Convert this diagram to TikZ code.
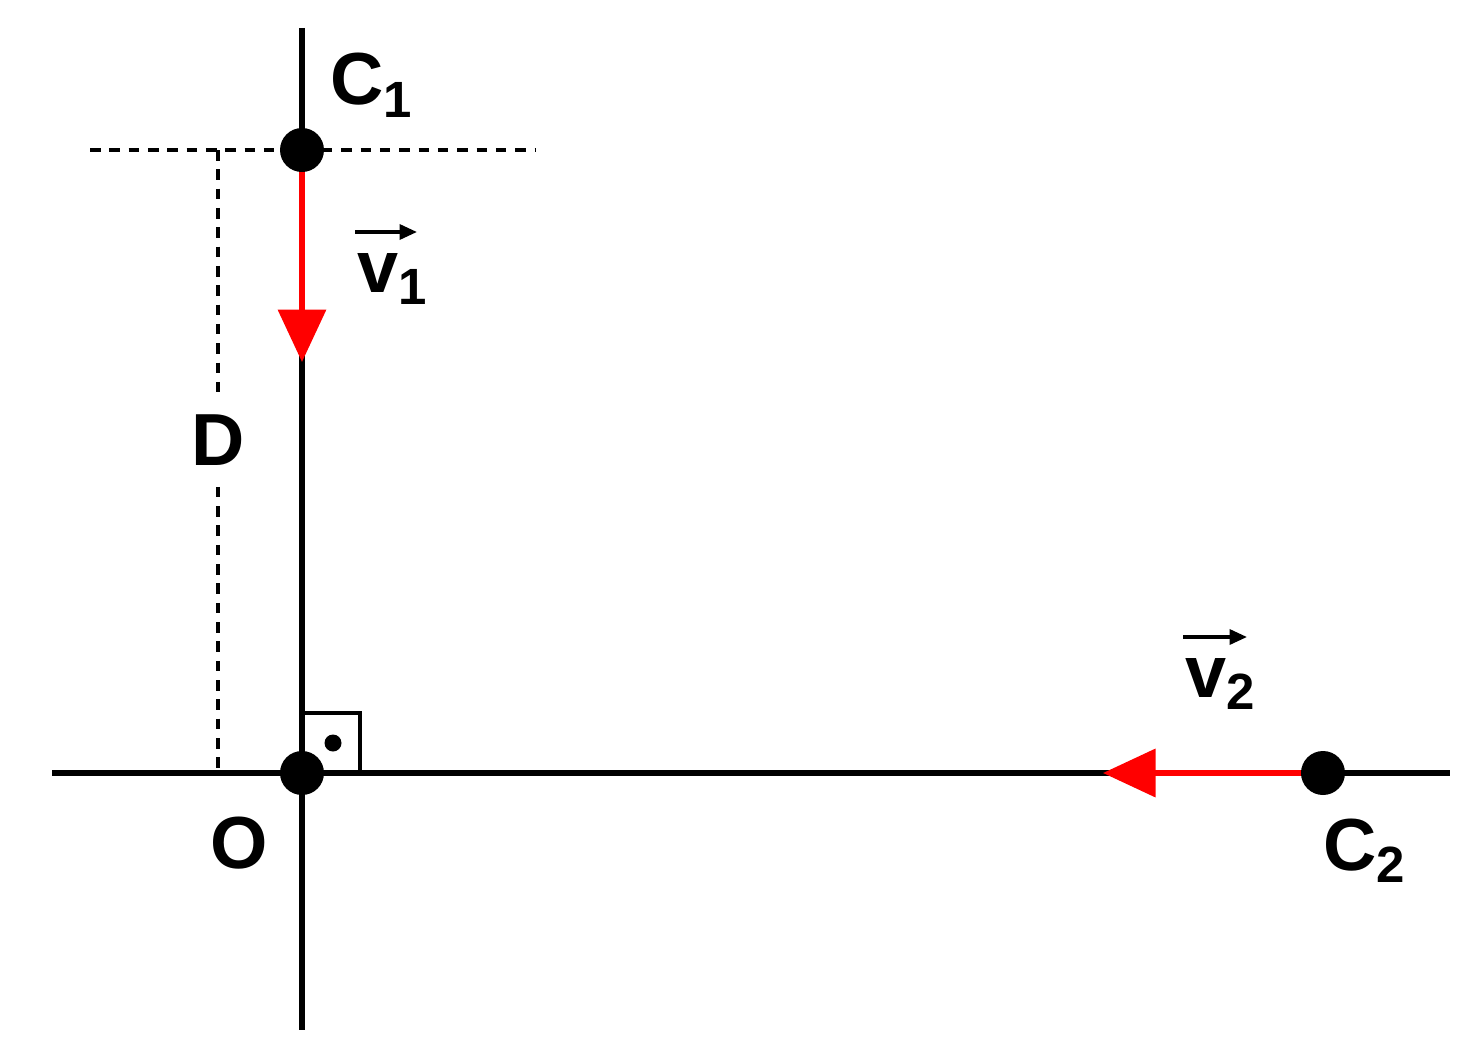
\documentclass[tikz,border=0pt]{standalone}
\usepackage{fontspec}
\setmainfont{Liberation Sans}
\usetikzlibrary{arrows.meta}
\newcommand{\mysub}[1]{\raisebox{-7pt}{\fontsize{29}{29}\selectfont\bfseries #1}}
\begin{document}
\begin{tikzpicture}[x=0.02cm,y=-0.02cm,
  axis/.style={line width=3pt,black},
  dsh/.style={line width=2pt,dash pattern=on 6pt off 5pt},
  pt/.style={circle,fill=black,inner sep=0pt,minimum size=0.88cm},
  vel/.style={line width=3pt,red,-{Triangle[length=1.05cm,width=0.95cm]}},
  lbl/.style={font=\fontsize{42}{42}\selectfont\bfseries,inner sep=0pt}]
\useasboundingbox (0,0) rectangle (1483,1061);
\coordinate (vt) at (302,28); \coordinate (vb) at (302,1030);
\coordinate (hl) at (52,773); \coordinate (hr) at (1450,773);
\draw[axis] (vt) -- (vb);
\draw[axis] (hl) -- (hr);
\coordinate (dl) at (90,150); \coordinate (dr) at (535,150);
\draw[dsh] (dl) -- (dr);
\node[lbl] (D) at (218,440) {D};
\coordinate (dt) at (218,150); \coordinate (db) at (218,773);
\draw[dsh] (dt) -- ([yshift=12pt]D.north);
\draw[dsh] ([yshift=-12pt]D.south) -- (db);
\node[pt] (C1) at (302,150) {};
\node[pt] (O) at (302,773) {};
\node[pt] (C2) at (1323,773) {};
\coordinate (v1t) at (302,362);
\coordinate (v2t) at (1103,773);
\draw[vel] (C1) -- (v1t);
\draw[vel] (C2) -- (v2t);
\draw[line width=2pt] (302,713) rectangle (360,773);
\fill (333,743) circle (0.17cm);
\node[lbl,anchor=base west] (c1l) at (330,105) {C\mysub{1}};
\node[lbl,anchor=base west] (c2l) at (1323,870) {C\mysub{2}};
\node[lbl,anchor=base west] (ol) at (210,868) {O};
\node[lbl,anchor=base west] (v1) at (357,292) {v\mysub{1}};
\node[lbl,anchor=base west] (v2) at (1185,697) {v\mysub{2}};
\coordinate (a1s) at (355,232); \coordinate (a1e) at (417,232);
\coordinate (a2s) at (1183,637); \coordinate (a2e) at (1247,637);
\draw[line width=2pt,-{Triangle[length=0.35cm,width=0.3cm]}] (a1s) -- (a1e);
\draw[line width=2pt,-{Triangle[length=0.35cm,width=0.3cm]}] (a2s) -- (a2e);
\end{tikzpicture}
\end{document}
